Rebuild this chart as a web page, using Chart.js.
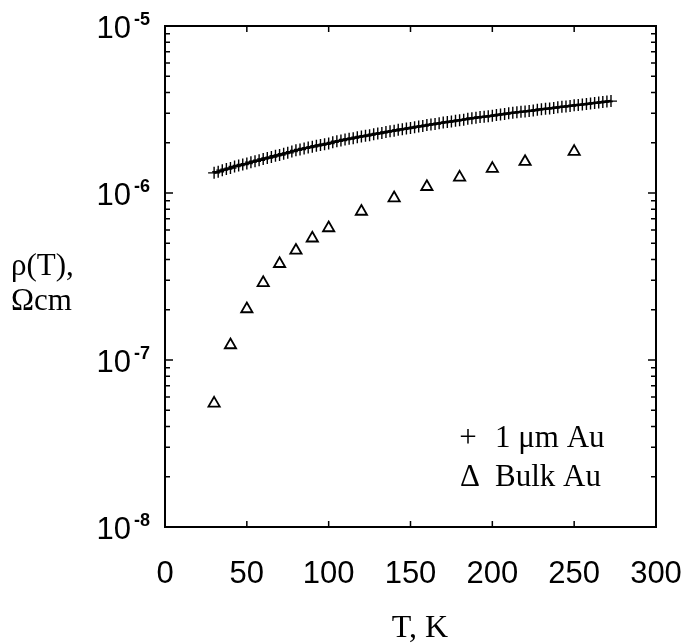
<!DOCTYPE html>
<html>
<head>
<meta charset="utf-8">
<script src="https://cdn.jsdelivr.net/npm/chart.js@4/dist/chart.umd.min.js"></script>
<style>
  body { margin: 0; background: #fff; }
  canvas { display: block; }
</style>
</head>
<body>
<canvas id="rhoChart" width="684" height="643"></canvas>
<script>
// 1 um Au film, T in K, rho in Ohm cm
var filmT = [30, 32.5, 35, 37.5, 40, 42.5, 45, 47.5, 50, 52.5, 55, 57.5, 60, 62.5, 65, 67.5,
  70, 72.5, 75, 77.5, 80, 82.5, 85, 87.5, 90, 92.5, 95, 97.5, 100, 102.5, 105, 107.5,
  110, 112.5, 115, 117.5, 120, 122.5, 125, 127.5, 130, 132.5, 135, 137.5, 140, 142.5,
  145, 147.5, 150, 152.5, 155, 157.5, 160, 162.5, 165, 167.5, 170, 172.5, 175, 177.5,
  180, 182.5, 185, 187.5, 190, 192.5, 195, 197.5, 200, 202.5, 205, 207.5, 210, 212.5,
  215, 217.5, 220, 222.5, 225, 227.5, 230, 232.5, 235, 237.5, 240, 242.5, 245, 247.5,
  250, 252.5, 255, 257.5, 260, 262.5, 265, 267.5, 270, 272.5];
var filmRho = [1.32e-6, 1.34e-6, 1.37e-6, 1.39e-6, 1.41e-6, 1.44e-6, 1.46e-6, 1.48e-6,
  1.50e-6, 1.53e-6, 1.55e-6, 1.57e-6, 1.60e-6, 1.62e-6, 1.64e-6, 1.67e-6,
  1.69e-6, 1.72e-6, 1.74e-6, 1.77e-6, 1.80e-6, 1.82e-6, 1.85e-6, 1.87e-6,
  1.89e-6, 1.92e-6, 1.94e-6, 1.96e-6, 1.98e-6, 2.01e-6, 2.04e-6, 2.06e-6,
  2.09e-6, 2.11e-6, 2.13e-6, 2.16e-6, 2.18e-6, 2.20e-6, 2.22e-6, 2.25e-6,
  2.27e-6, 2.29e-6, 2.32e-6, 2.34e-6, 2.36e-6, 2.39e-6, 2.41e-6, 2.43e-6,
  2.45e-6, 2.48e-6, 2.50e-6, 2.52e-6, 2.55e-6, 2.57e-6, 2.59e-6, 2.62e-6,
  2.64e-6, 2.66e-6, 2.68e-6, 2.71e-6, 2.73e-6, 2.75e-6, 2.78e-6, 2.80e-6,
  2.82e-6, 2.85e-6, 2.86e-6, 2.88e-6, 2.90e-6, 2.93e-6, 2.95e-6, 2.97e-6,
  3.00e-6, 3.02e-6, 3.04e-6, 3.07e-6, 3.08e-6, 3.10e-6, 3.12e-6, 3.15e-6,
  3.17e-6, 3.19e-6, 3.21e-6, 3.23e-6, 3.26e-6, 3.28e-6, 3.30e-6, 3.32e-6,
  3.35e-6, 3.37e-6, 3.39e-6, 3.41e-6, 3.44e-6, 3.46e-6, 3.48e-6, 3.51e-6,
  3.53e-6, 3.55e-6];
// bulk Au
var bulkT = [30, 40, 50, 60, 70, 80, 90, 100, 120, 140, 160, 180, 200, 220, 250];
var bulkRho = [5.5e-8, 1.23e-7, 2.02e-7, 2.90e-7, 3.77e-7, 4.53e-7, 5.36e-7, 6.17e-7,
  7.75e-7, 9.33e-7, 1.09e-6, 1.24e-6, 1.40e-6, 1.54e-6, 1.77e-6];
var xTicks = [0, 50, 100, 150, 200, 250, 300];
var yDecades = [-8, -7, -6, -5];
var legendItems = [["+", "1 \u03bcm Au"], ["\u0394", "Bulk Au"]];

var filmPts = filmT.map(function(t, i) { return {x: t, y: filmRho[i]}; });
var bulkPts = bulkT.map(function(t, i) { return {x: t, y: bulkRho[i]}; });

var framePlugin = {
  id: 'frame',
  afterDraw: function(chart) {
    var ctx = chart.ctx;
    var a = chart.chartArea;
    var xs = chart.scales.x;
    var ys = chart.scales.y;
    ctx.save();
    ctx.strokeStyle = '#000';
    ctx.fillStyle = '#000';
    ctx.lineWidth = 2;
    ctx.strokeRect(a.left, a.top, a.right - a.left, a.bottom - a.top);

    // x ticks, inward top and bottom
    ctx.lineWidth = 1.5;
    xTicks.forEach(function(v) {
      var px = xs.getPixelForValue(v);
      ctx.beginPath();
      ctx.moveTo(px, a.bottom); ctx.lineTo(px, a.bottom - 6);
      ctx.moveTo(px, a.top); ctx.lineTo(px, a.top + 6);
      ctx.stroke();
    });
    // y ticks (log minor)
    for (var d = -8; d < -5; d++) {
      for (var m = 1; m < 10; m++) {
        var py = ys.getPixelForValue(m * Math.pow(10, d));
        var len = m == 1 ? 8 : 5;
        ctx.beginPath();
        ctx.moveTo(a.left, py); ctx.lineTo(a.left + len, py);
        ctx.moveTo(a.right, py); ctx.lineTo(a.right - len, py);
        ctx.stroke();
      }
    }

    // x tick labels
    ctx.font = '31px "Liberation Sans", Arial, sans-serif';
    ctx.textAlign = 'center';
    ctx.textBaseline = 'alphabetic';
    xTicks.forEach(function(v) {
      ctx.fillText(String(v), xs.getPixelForValue(v), a.bottom + 56);
    });

    // y tick labels 10^n
    yDecades.forEach(function(d) {
      var py = ys.getPixelForValue(Math.pow(10, d));
      var exp = '-' + String(-d);
      ctx.font = 'bold 18px "Liberation Sans", Arial, sans-serif';
      ctx.textAlign = 'right';
      var expRight = a.left - 15;
      var ew = ctx.measureText(exp).width;
      ctx.fillText(exp, expRight, py - 1);
      ctx.font = '31px "Liberation Sans", Arial, sans-serif';
      ctx.fillText('10', expRight - ew - 3, py + 12);
    });

    // axis titles
    ctx.font = '31px "Liberation Serif", "Times New Roman", serif';
    ctx.textAlign = 'left';
    ctx.fillText('\u03c1(T),', 11, 275);
    ctx.fillText('\u03a9cm', 11, 310);
    ctx.textAlign = 'center';
    ctx.font = '32px "Liberation Serif", "Times New Roman", serif';
    ctx.fillText('T, K', 420, 637);

    // legend
    ctx.font = '31px "Liberation Serif", "Times New Roman", serif';
    legendItems.forEach(function(it, i) {
      var by = 447 + i * 39;
      ctx.textAlign = 'center';
      ctx.fillText(it[0], i == 0 ? 468 : 470, by);
      ctx.textAlign = 'left';
      ctx.fillText(it[1], 495, by);
    });
    ctx.restore();
  }
};

var chart = new Chart(document.getElementById('rhoChart'), {
  type: 'scatter',
  data: {
    datasets: [{
      label: '1 \u03bcm Au',
      data: filmPts,
      showLine: true,
      borderColor: '#000',
      borderWidth: 2.5,
      pointStyle: 'cross',
      pointRadius: 6,
      pointBorderWidth: 1.4,
      pointBorderColor: '#000',
      backgroundColor: '#000'
    }, {
      label: 'Bulk Au',
      data: bulkPts,
      showLine: false,
      pointStyle: 'triangle',
      pointRadius: 6.5,
      pointBorderWidth: 1.8,
      pointBorderColor: '#000',
      pointBackgroundColor: '#fff'
    }]
  },
  options: {
    responsive: false,
    animation: false,
    layout: { padding: { left: 165, right: 28, top: 26, bottom: 116 } },
    plugins: { legend: { display: false }, tooltip: { enabled: false } },
    scales: {
      x: { type: 'linear', min: 0, max: 300, display: false },
      y: { type: 'logarithmic', min: 1e-8, max: 1e-5, display: false }
    }
  },
  plugins: [framePlugin]
});
</script>
</body>
</html>
